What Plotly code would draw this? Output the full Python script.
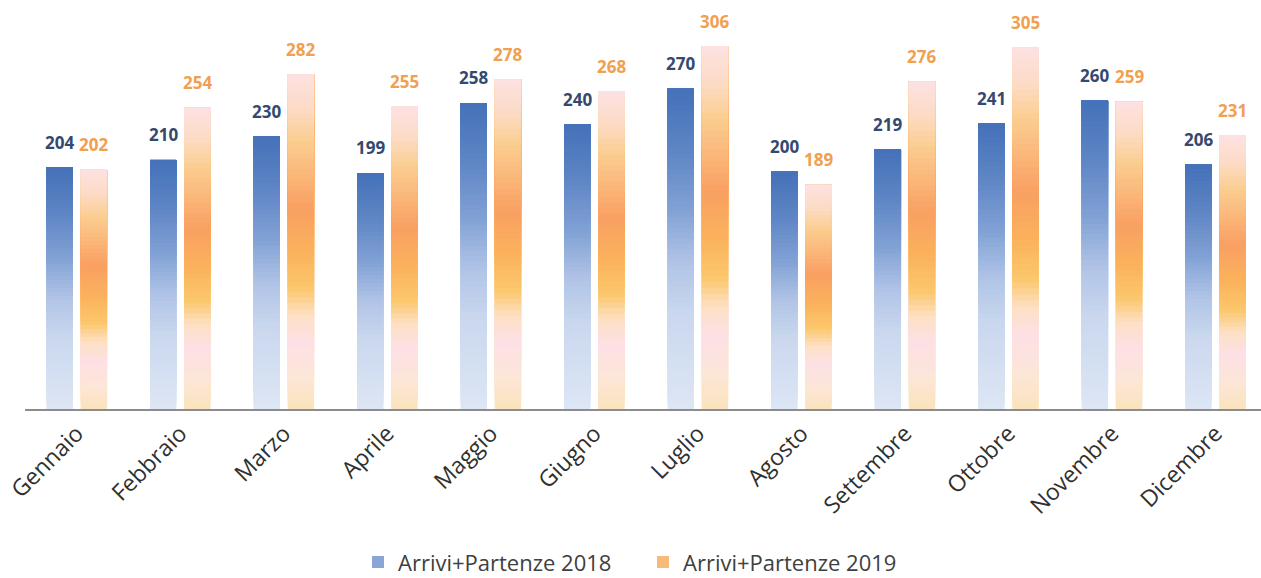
import plotly.graph_objects as go

months = ["Gennaio", "Febbraio", "Marzo", "Aprile", "Maggio", "Giugno",
          "Luglio", "Agosto", "Settembre", "Ottobre", "Novembre", "Dicembre"]
values_2018 = [204, 210, 230, 199, 258, 240, 270, 200, 219, 241, 260, 206]
values_2019 = [202, 254, 282, 255, 278, 268, 306, 189, 276, 305, 259, 231]
series_names = ["Arrivi+Partenze 2018", "Arrivi+Partenze 2019"]

# gradient stops: fraction from bottom of bar -> colour
blue_stops = [(0.0, "#dde6f4"), (0.3, "#c9d7ee"), (0.45, "#b2c5e7"),
              (0.62, "#82a2d5"), (0.8, "#5f86c5"), (1.0, "#4471b8")]
orange_stops = [(0.0, "#fbe3bc"), (0.1, "#fce6d8"), (0.2, "#fde0e6"),
                (0.28, "#fde0c4"), (0.36, "#fcc76c"), (0.47, "#fbb25c"),
                (0.6, "#f9a062"), (0.8, "#fbcd90"), (0.9, "#fcdcc6"),
                (1.0, "#fde1e2")]


def hex2rgb(h):
    h = h.lstrip("#")
    return tuple(int(h[i:i + 2], 16) for i in (0, 2, 4))


def interp(stops, t):
    for (t0, c0), (t1, c1) in zip(stops[:-1], stops[1:]):
        if t0 <= t <= t1:
            f = (t - t0) / (t1 - t0) if t1 > t0 else 0
            a, b = hex2rgb(c0), hex2rgb(c1)
            r = [round(a[k] + (b[k] - a[k]) * f) for k in range(3)]
            return "rgb(%d,%d,%d)" % tuple(r)
    return stops[-1][1]


N = 60
BAR_W = 0.255
OFFS = 0.165
x_idx = list(range(len(months)))

fig = go.Figure()

for vals, stops, off in [(values_2018, blue_stops, -OFFS),
                         (values_2019, orange_stops, OFFS)]:
    xs = [i + off for i in x_idx]
    for s in range(N):
        frac = s / N
        fig.add_trace(go.Bar(
            x=xs,
            y=[v * (1 - frac) for v in vals],
            base=[v * frac for v in vals],
            width=BAR_W,
            marker=dict(color=interp(stops, (s + 0.5) / N), line=dict(width=0)),
            showlegend=False,
            hoverinfo="skip",
        ))

# legend entries
fig.add_trace(go.Bar(x=[None], y=[None], name=series_names[0],
                     marker=dict(color="#8aa6d6", line=dict(width=0))))
fig.add_trace(go.Bar(x=[None], y=[None], name=series_names[1],
                     marker=dict(color="#f9b97a", line=dict(width=0))))

annotations = []
for vals, off, col in [(values_2018, -OFFS, "#34496e"),
                       (values_2019, OFFS, "#f0a050")]:
    for i, v in zip(x_idx, vals):
        annotations.append(dict(
            x=i + off, y=v, text=str(v), showarrow=False,
            yanchor="middle", yshift=25,
            font=dict(family="Open Sans", size=17, color=col, weight="bold"),
        ))

fig.update_layout(
    width=1261, height=578,
    margin=dict(l=25, r=0, t=10, b=169, autoexpand=False),
    barmode="overlay",
    plot_bgcolor="white", paper_bgcolor="white",
    annotations=annotations,
    font=dict(family="Open Sans", color="#404040"),
    legend=dict(orientation="h", x=0.5, xanchor="center", y=-0.384,
                yanchor="middle", font=dict(size=22, color="#404040"),
                entrywidth=240, entrywidthmode="pixels",
                traceorder="normal"),
    xaxis=dict(range=[-0.5, 11.44], tickvals=x_idx, ticktext=months,
               tickangle=-45, showgrid=False, zeroline=False,
               automargin=False,
               showline=True, linecolor="#8c8c8c", linewidth=2, ticks="",
               tickfont=dict(size=23, color="#303030")),
    yaxis=dict(range=[0, 336.4], visible=False, showgrid=False,
               automargin=False),
)

fig.write_html("out.html",
               config={"displayModeBar": False},
               post_script="document.body.style.margin='0';"
                           "document.body.style.overflow='hidden';")
